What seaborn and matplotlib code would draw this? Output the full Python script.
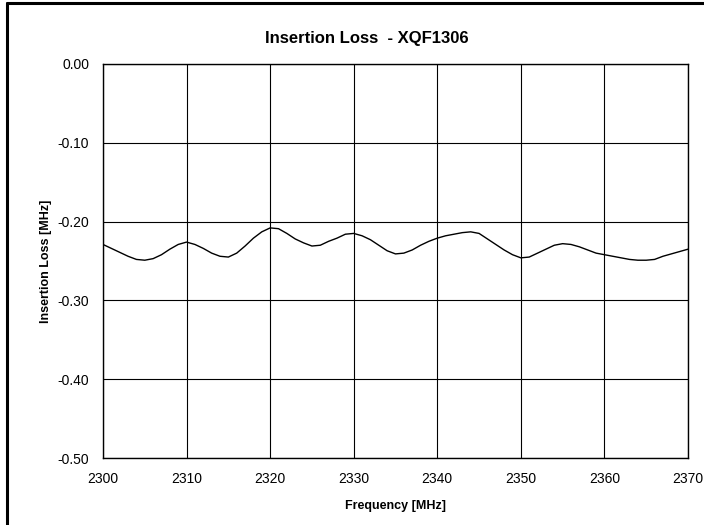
import seaborn as sns
import matplotlib.pyplot as plt
import pandas as pd
import numpy as np
from matplotlib.lines import Line2D

freq_mhz = list(range(2300, 2371))
insertion_loss = [
    -0.229, -0.234, -0.239, -0.244, -0.248, -0.249, -0.247, -0.242, -0.235, -0.229,
    -0.226, -0.229, -0.234, -0.240, -0.244, -0.245, -0.240, -0.231, -0.221, -0.213,
    -0.208, -0.209, -0.215, -0.222, -0.227, -0.231, -0.230, -0.225, -0.221, -0.216,
    -0.215, -0.218, -0.223, -0.230, -0.237, -0.241, -0.240, -0.236, -0.230, -0.225,
    -0.221, -0.218, -0.216, -0.214, -0.213, -0.215, -0.222, -0.229, -0.236, -0.242,
    -0.246, -0.245, -0.240, -0.235, -0.230, -0.228, -0.229, -0.232, -0.236, -0.240,
    -0.242, -0.244, -0.246, -0.248, -0.249, -0.249, -0.248, -0.244, -0.241, -0.238,
    -0.235,
]
x_ticks = [2300, 2310, 2320, 2330, 2340, 2350, 2360, 2370]
y_ticks = [0.0, -0.1, -0.2, -0.3, -0.4, -0.5]

df = pd.DataFrame({'Frequency': freq_mhz, 'Loss': insertion_loss})

sns.set_style('white')
plt.rcParams['font.family'] = ['Liberation Sans', 'DejaVu Sans']
plt.rcParams['text.color'] = 'black'
plt.rcParams['axes.labelcolor'] = 'black'

fig = plt.figure(figsize=(7.04, 5.25), dpi=100)
ax = fig.add_axes([103 / 704, 1 - 458 / 525, 585 / 704, 394 / 525])

sns.lineplot(data=df, x='Frequency', y='Loss', color='black', linewidth=1.0, ax=ax)

ax.set_xlim(2300, 2370)
ax.set_ylim(-0.5, 0.0)
ax.set_xticks(x_ticks)
ax.set_xticklabels([str(t) for t in x_ticks])
ax.set_yticks(y_ticks)
ax.set_yticklabels([f'{t:.2f}' for t in y_ticks])
ax.tick_params(axis='both', length=0, labelsize=10, colors='black')
ax.tick_params(axis='y', pad=10)
ax.tick_params(axis='x', pad=10)
ax.grid(True, color='black', linewidth=0.8)
for sp in ax.spines.values():
    sp.set_color('black')
    sp.set_linewidth(1.0)

ax.set_xlabel('Frequency [MHz]', fontsize=9, fontweight='bold')
ax.set_ylabel('Insertion Loss [MHz]', fontsize=9, fontweight='bold')
ax.xaxis.set_label_coords(0.5, (458 - 500) / 394)
ax.yaxis.set_label_coords((52 - 103) / 585, 0.5)
fig.text(367 / 704, 1 - 38 / 525, 'Insertion Loss  - XQF1306', ha='center', va='center',
         fontsize=12, fontweight='bold')

# outer frame (left and top edges visible)
fig.add_artist(Line2D([7.5 / 704, 7.5 / 704], [0, 1 - 3 / 525], color='black', linewidth=2.2,
                      transform=fig.transFigure))
fig.add_artist(Line2D([7.5 / 704, 1], [1 - 3 / 525, 1 - 3 / 525], color='black', linewidth=2.2,
                      transform=fig.transFigure))

fig.savefig('out.png', dpi=100)
plt.close(fig)
